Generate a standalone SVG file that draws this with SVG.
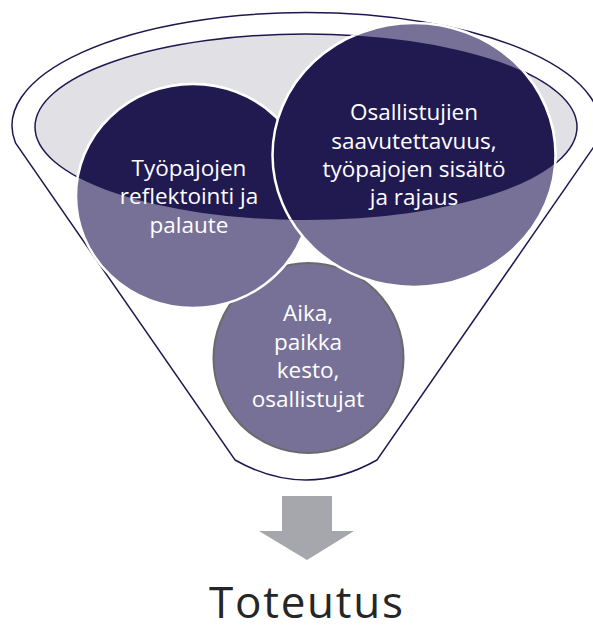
<svg xmlns="http://www.w3.org/2000/svg" width="593" height="632" viewBox="0 0 593 632">
  <style>
    .funnel { fill: #ffffff; stroke: #1e1850; stroke-width: 1.5; }
    .inner { fill: #e1e1e5; stroke: #1e1850; stroke-width: 1.5; }
    .light { fill: #777197; stroke: #ffffff; stroke-width: 2.5; }
    .dark { fill: #211a51; stroke: #ffffff; stroke-width: 2.5; }
    .bottom { fill: #777197; stroke: #6a6a6a; stroke-width: 2; }
    .lbl { font-family: "Open Sans", "Liberation Sans", sans-serif; font-size: 22.5px; fill: #ffffff; text-anchor: middle; }
    .title { font-family: "Open Sans", "Liberation Sans", sans-serif; font-size: 44px; fill: #262626; text-anchor: middle; }
  </style>
  <defs>
    <clipPath id="innerClip">
      <ellipse cx="306" cy="127" rx="271" ry="93"/>
    </clipPath>
  </defs>

  <g id="funnel">
    <path class="funnel" d="M 15.5 143 A 294 113 0 1 1 596.5 143 L 377 460 Q 306 500 235 460 Z"/>
    <ellipse class="inner" cx="306" cy="127" rx="271" ry="93"/>
  </g>

  <g id="node-bottom">
    <circle class="bottom" cx="308.5" cy="358" r="95"/>
  </g>

  <g id="node-left-shape">
    <ellipse class="light" cx="193" cy="196" rx="117" ry="112"/>
  </g>
  <g id="node-right-shape">
    <ellipse class="light" cx="414" cy="155" rx="141.5" ry="132"/>
  </g>

  <g id="dark-overlay" clip-path="url(#innerClip)">
    <ellipse class="dark" cx="193" cy="196" rx="117" ry="112"/>
    <ellipse class="dark" cx="414" cy="155" rx="141.5" ry="132"/>
  </g>

  <g id="node-left">
    <text class="lbl" x="189" y="176">Työpajojen</text>
    <text class="lbl" x="189" y="204">reflektointi ja</text>
    <text class="lbl" x="189" y="233">palaute</text>
  </g>

  <g id="node-right">
    <text class="lbl" x="414" y="120">Osallistujien</text>
    <text class="lbl" x="414" y="149">saavutettavuus,</text>
    <text class="lbl" x="414" y="177">työpajojen sisältö</text>
    <text class="lbl" x="414" y="205">ja rajaus</text>
  </g>

  <g id="node-bottom-text">
    <text class="lbl" x="308" y="321">Aika,</text>
    <text class="lbl" x="308" y="350">paikka</text>
    <text class="lbl" x="308" y="378">kesto,</text>
    <text class="lbl" x="308" y="407">osallistujat</text>
  </g>

  <g id="connectors">
    <path d="M 282 496 L 332 496 L 332 531 L 354 531 L 307 560 L 259 531 L 282 531 Z" fill="#a6a6ad"/>
  </g>

  <g id="result">
    <text class="title" x="306" y="618" textLength="194" lengthAdjust="spacing">Toteutus</text>
  </g>
</svg>
